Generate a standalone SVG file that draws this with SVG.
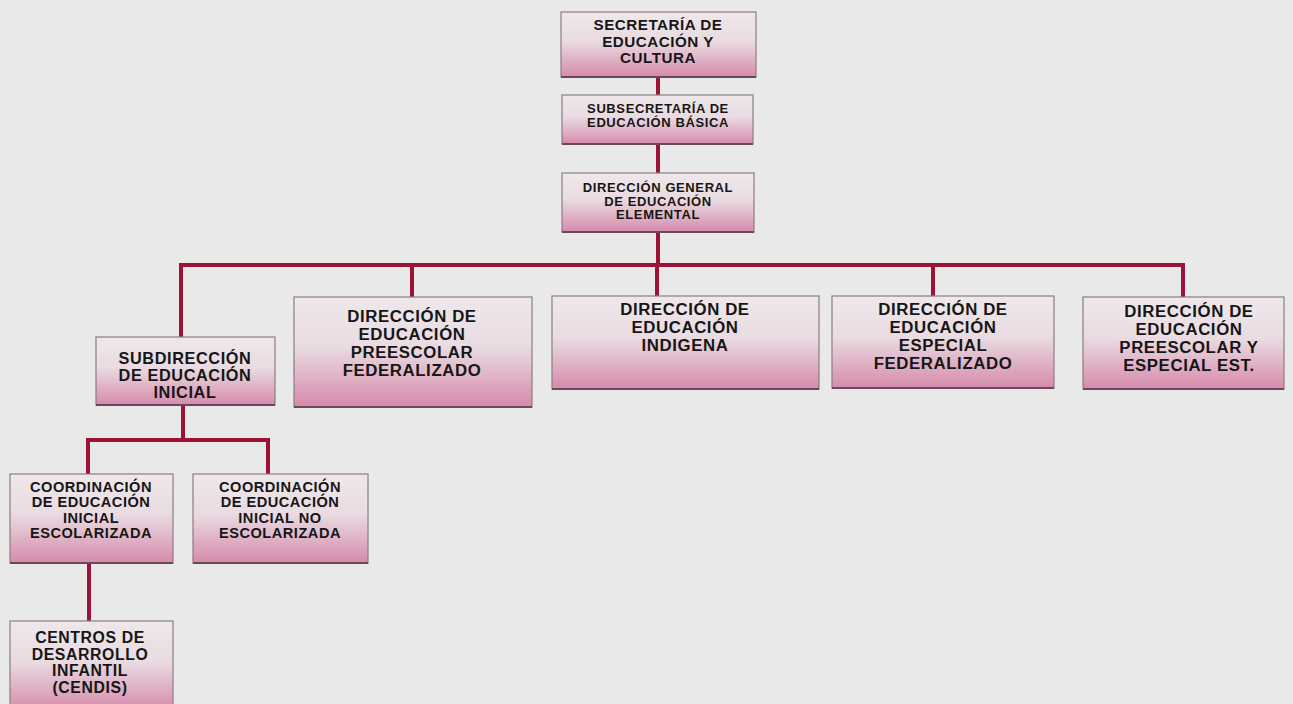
<svg xmlns="http://www.w3.org/2000/svg" width="1293" height="704" viewBox="0 0 1293 704">
<defs>
<linearGradient id="boxfill" x1="0" y1="0" x2="0" y2="1">
<stop offset="0" stop-color="#eee8eb"/>
<stop offset="0.45" stop-color="#e9dbe1"/>
<stop offset="1" stop-color="#d68aab"/>
</linearGradient>
<style>
.box{fill:url(#boxfill);stroke:#8b7d83;stroke-width:1.2}
.shadow{stroke:#6a4a58;stroke-width:2;fill:none}
.conn{stroke:#9e1238;stroke-width:4;fill:none;stroke-linecap:square}
text{font-family:"Liberation Sans",Arial,sans-serif;font-weight:bold;fill:#161616;text-anchor:middle}
.t1{font-size:15.2px;letter-spacing:0.5px}
.t2{font-size:13px;letter-spacing:0.6px}
.t3{font-size:16.8px;letter-spacing:0.6px}
.t3s{font-size:16.3px;letter-spacing:0.6px}
.t4{font-size:14.6px;letter-spacing:0.5px}
.t5{font-size:15.8px;letter-spacing:0.6px}
</style>
</defs>
<rect x="0" y="0" width="1293" height="704" fill="#e8e9e8"/>
<g id="connectors">
<path class="conn" d="M658 77V95M658 144V173M658 232V265M181 265H1183M181 265V337M412 265V297M657 265V296M933 265V296M1183 265V297"/>
<path class="conn" d="M183 405V440M88 440H268M88 440V474M268 440V474M89 563V621"/>
</g>
<g id="n-secretaria">
<rect class="box" x="561" y="12" width="195" height="65"/>
<path class="shadow" d="M561 77H756"/>
<text class="t1" x="658" y="30">SECRETARÍA DE</text>
<text class="t1" x="658" y="46.5">EDUCACIÓN Y</text>
<text class="t1" x="658" y="63">CULTURA</text>
</g>
<g id="n-subsecretaria">
<rect class="box" x="562" y="95" width="191" height="49"/>
<path class="shadow" d="M562 144H753"/>
<text class="t2" x="658" y="113">SUBSECRETARÍA DE</text>
<text class="t2" x="658" y="127">EDUCACIÓN BÁSICA</text>
</g>
<g id="n-direccion-general">
<rect class="box" x="562" y="173" width="192" height="59"/>
<path class="shadow" d="M562 232H754"/>
<text class="t2" x="658" y="192">DIRECCIÓN GENERAL</text>
<text class="t2" x="658" y="205.5">DE EDUCACIÓN</text>
<text class="t2" x="658" y="219">ELEMENTAL</text>
</g>
<g id="n-subdireccion-inicial">
<rect class="box" x="96" y="337" width="179" height="68"/>
<path class="shadow" d="M96 405H275"/>
<text class="t3s" x="185" y="363.5">SUBDIRECCIÓN</text>
<text class="t3s" x="185" y="380.5">DE EDUCACIÓN</text>
<text class="t3s" x="185" y="397.5">INICIAL</text>
</g>
<g id="n-preescolar-fed">
<rect class="box" x="294" y="297" width="238" height="110"/>
<path class="shadow" d="M294 407H532"/>
<text class="t3" x="412" y="322">DIRECCIÓN DE</text>
<text class="t3" x="412" y="340">EDUCACIÓN</text>
<text class="t3" x="412" y="358">PREESCOLAR</text>
<text class="t3" x="412" y="376">FEDERALIZADO</text>
</g>
<g id="n-indigena">
<rect class="box" x="552" y="296" width="267" height="93"/>
<path class="shadow" d="M552 389H819"/>
<text class="t3" x="685" y="315">DIRECCIÓN DE</text>
<text class="t3" x="685" y="333">EDUCACIÓN</text>
<text class="t3" x="685" y="351">INDIGENA</text>
</g>
<g id="n-especial-fed">
<rect class="box" x="832" y="296" width="222" height="92"/>
<path class="shadow" d="M832 388H1054"/>
<text class="t3" x="943" y="315">DIRECCIÓN DE</text>
<text class="t3" x="943" y="333">EDUCACIÓN</text>
<text class="t3" x="943" y="351">ESPECIAL</text>
<text class="t3" x="943" y="369">FEDERALIZADO</text>
</g>
<g id="n-preescolar-especial-est">
<rect class="box" x="1083" y="297" width="201" height="92"/>
<path class="shadow" d="M1083 389H1284"/>
<text class="t3" x="1189" y="317">DIRECCIÓN DE</text>
<text class="t3" x="1189" y="335">EDUCACIÓN</text>
<text class="t3" x="1189" y="353">PREESCOLAR Y</text>
<text class="t3" x="1189" y="371">ESPECIAL EST.</text>
</g>
<g id="n-coord-escolarizada">
<rect class="box" x="10" y="474" width="163" height="89"/>
<path class="shadow" d="M10 563H173"/>
<text class="t4" x="91" y="491.5">COORDINACIÓN</text>
<text class="t4" x="91" y="507">DE EDUCACIÓN</text>
<text class="t4" x="91" y="522.5">INICIAL</text>
<text class="t4" x="91" y="538">ESCOLARIZADA</text>
</g>
<g id="n-coord-no-escolarizada">
<rect class="box" x="193" y="474" width="175" height="89"/>
<path class="shadow" d="M193 563H368"/>
<text class="t4" x="280" y="491.5">COORDINACIÓN</text>
<text class="t4" x="280" y="507">DE EDUCACIÓN</text>
<text class="t4" x="280" y="522.5">INICIAL NO</text>
<text class="t4" x="280" y="538">ESCOLARIZADA</text>
</g>
<g id="n-cendis">
<rect class="box" x="10" y="621" width="163" height="90"/>
<text class="t5" x="90" y="643">CENTROS DE</text>
<text class="t5" x="90" y="659.5">DESARROLLO</text>
<text class="t5" x="90" y="676">INFANTIL</text>
<text class="t5" x="90" y="692.5">(CENDIS)</text>
</g>
</svg>
